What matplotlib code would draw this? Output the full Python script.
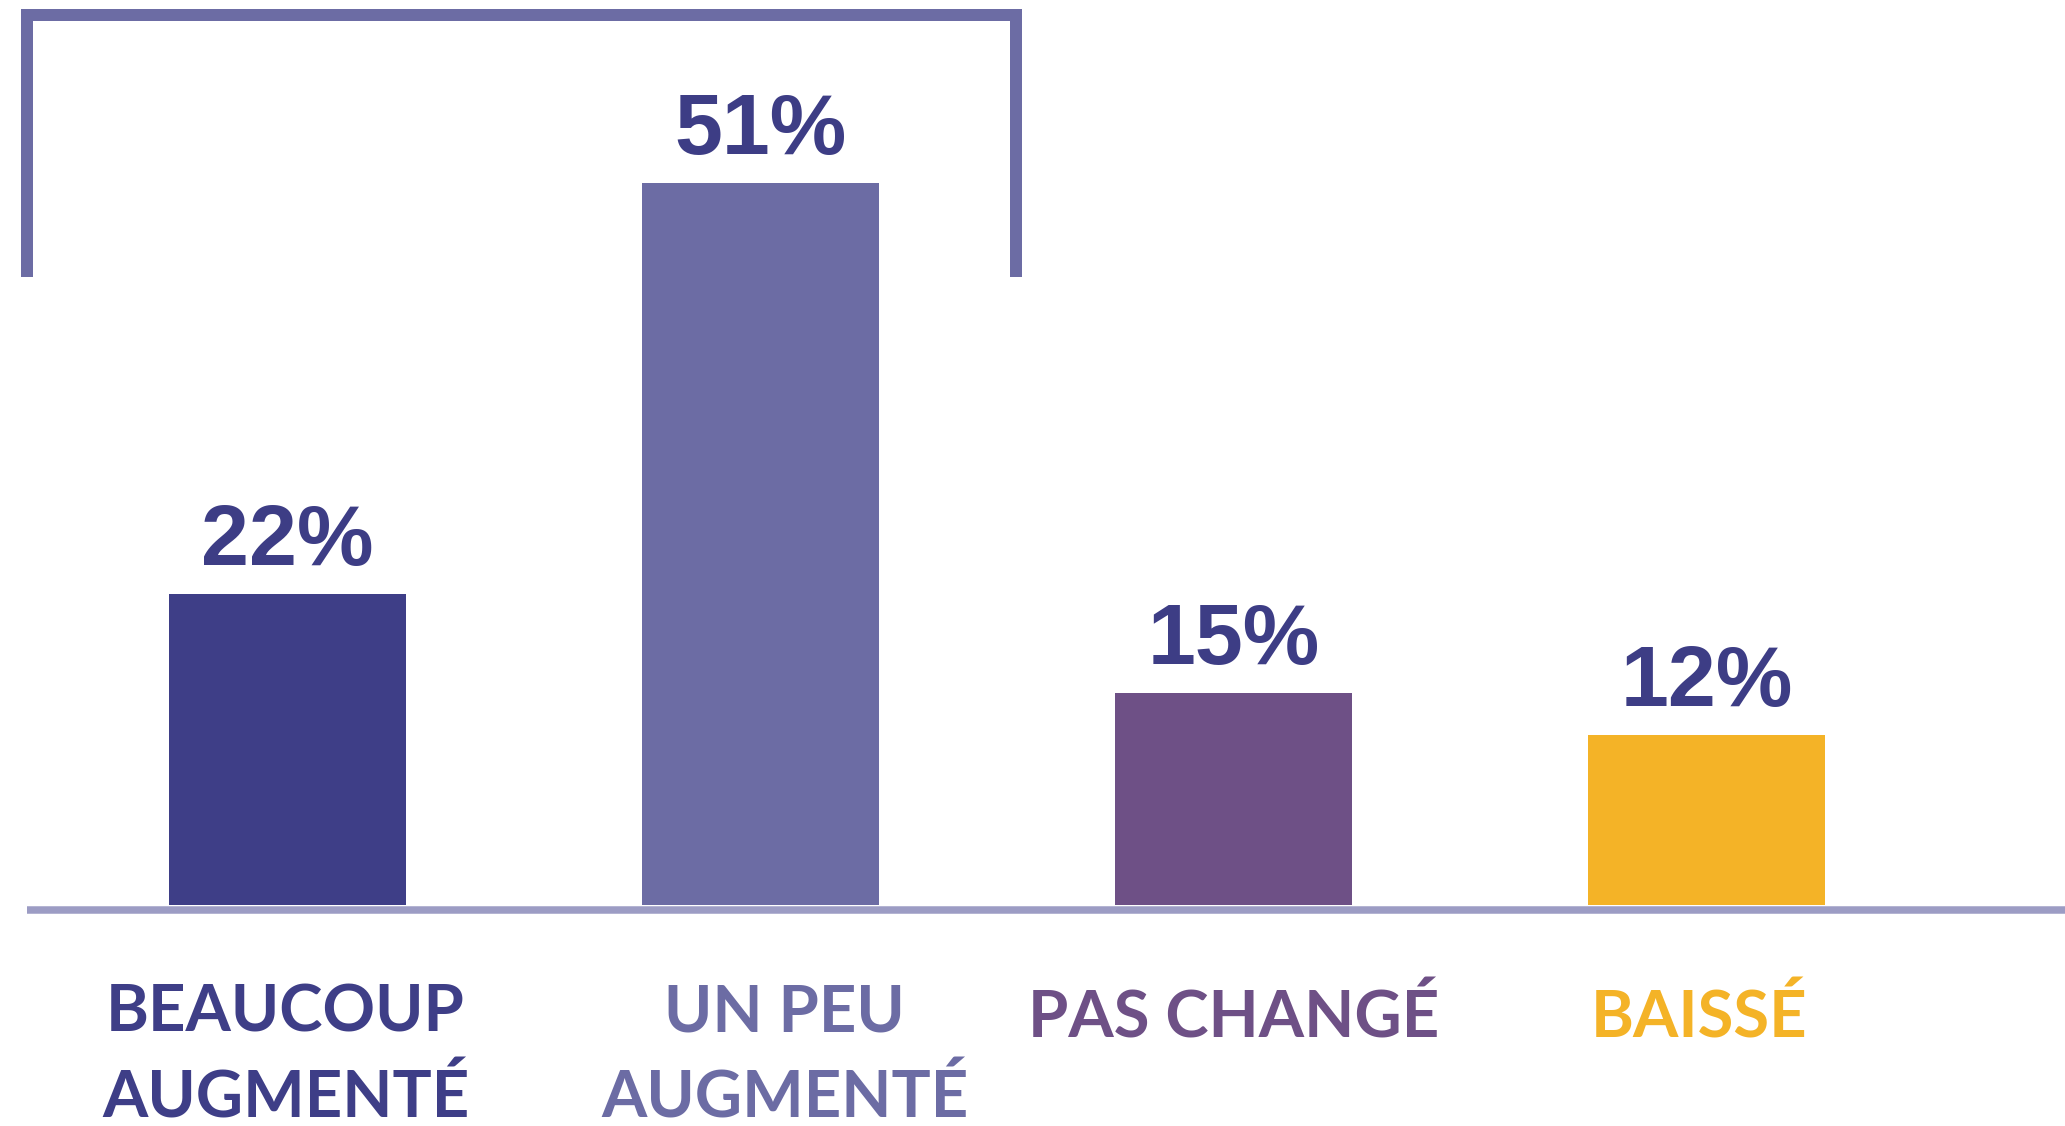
import matplotlib
matplotlib.use("Agg")
import matplotlib.pyplot as plt

# ---- data ----
categories = ["BEAUCOUP\nAUGMENTÉ", "UN PEU\nAUGMENTÉ", "PAS CHANGÉ", "BAISSÉ"]
values = [22, 51, 15, 12]
value_labels = ["22%", "51%", "15%", "12%"]
bar_colors = ["#3e3e87", "#6c6ca4", "#6e5086", "#f4b327"]
label_colors = ["#3e3e87", "#6c6ca4", "#6e5086", "#f4b327"]
label_x_offsets_px = [-2, 24, 0, -7]
value_color = "#3d3d85"
bracket_color = "#6c6ca4"
baseline_color = "#9c9cc4"

DPI = 100
W, H = 2065, 1126
fig = plt.figure(figsize=(W / DPI, H / DPI), dpi=DPI)
ax = fig.add_axes([0, 0, 1, 1])

px_per_x = 473.0
px_per_y = 14.15
first_center_px = 287.5
baseline_px_from_bottom = H - 905
ax.set_xlim(-first_center_px / px_per_x, (W - first_center_px) / px_per_x)
ax.set_ylim(-baseline_px_from_bottom / px_per_y, (H - baseline_px_from_bottom) / px_per_y)
ax.axis("off")

x = list(range(len(values)))
ax.bar(x, values, width=0.5, color=bar_colors, zorder=3)

# baseline
ax.plot([-0.551, 10], [-0.32, -0.32], color=baseline_color, lw=7.5 * 72 / DPI,
        solid_capstyle="butt", zorder=2)

# bracket over first two bars
bx0, bx1 = x[0] - 0.551, x[1] + 0.540
ytop, ybot = 62.9, 44.4
ax.plot([bx0, bx0, bx1, bx1], [ybot, ytop, ytop, ybot], color=bracket_color,
        lw=12 * 72 / DPI, solid_capstyle="butt", solid_joinstyle="miter", zorder=2)

# value labels
for xi, v, t in zip(x, values, value_labels):
    ax.annotate(t, xy=(xi, v), xytext=(0, 29 * 72 / DPI), textcoords="offset points",
                ha="center", va="baseline", fontsize=62, fontweight="bold",
                family="Liberation Sans", color=value_color, zorder=4)

# category labels
for xi, cat, c, dx in zip(x, categories, label_colors, label_x_offsets_px):
    lines = cat.split("\n")
    first = 126 if len(lines) > 1 else 132
    for k, line in enumerate(lines):
        off = first + 87 * k
        ax.annotate(line, xy=(xi, 0), xytext=(dx * 72 / DPI, -off * 72 / DPI),
                    textcoords="offset points",
                    ha="center", va="baseline", fontsize=47, fontweight="bold",
                    family="Lato", color=c, zorder=4)

fig.savefig("out.png", dpi=DPI)
